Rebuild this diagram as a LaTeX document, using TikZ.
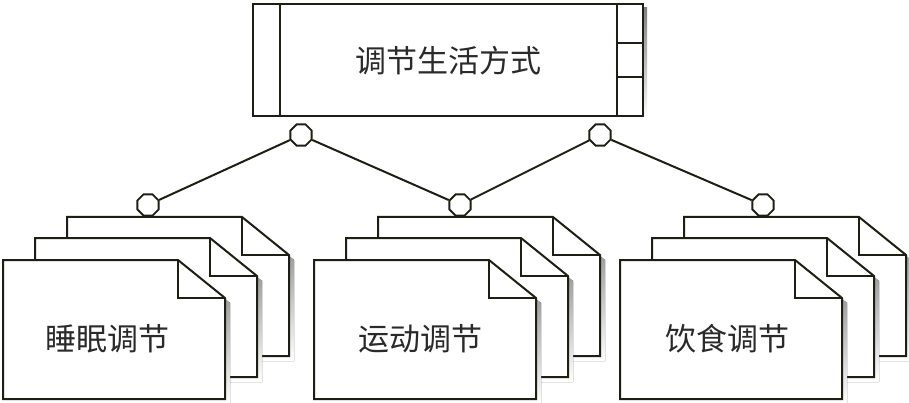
\documentclass[tikz,border=0pt]{standalone}
\usepackage{fontspec}
\newfontfamily\cjk{Noto Sans CJK SC}
\usetikzlibrary{shapes.geometric}
\definecolor{ink}{HTML}{1E1E12}
\definecolor{shade}{HTML}{CDCDCD}
\definecolor{txt}{HTML}{2A2A2A}
\tikzset{
  x=1pt, y=-1pt,
  line/.style={draw=ink, line width=2pt},
  knob/.style={regular polygon, regular polygon sides=8, draw=ink, line width=1.8pt, fill=white, minimum size=23pt, inner sep=0pt},
  label text/.style={font=\cjk\fontsize{31}{31}\selectfont, text=txt, inner sep=0pt},
  pics/docpage/.style={code={
    \fill[shade] (5,5) -- (180,5) -- (227,43) -- (227,144) -- (5,144) -- cycle;
    \draw[line, fill=white, line join=miter] (0,0) -- (175,0) -- (222,38) -- (222,139) -- (0,139) -- cycle;
    \draw[line] (175,0) -- (175,38) -- (222,38);
  }}
}
\begin{document}
\begin{tikzpicture}
\useasboundingbox (0,0) rectangle (909,403);
\fill[white] (0,0) rectangle (909,403);
% top box
\fill[shade] (257,8) rectangle (647,120);
\node[line, fill=white, minimum width=390pt, minimum height=112pt, inner sep=0pt, anchor=north west] (top) at (252,3) {};
\draw[line] ([xshift=28pt]top.north west) -- ([xshift=28pt]top.south west);
\draw[line] ([xshift=-27pt]top.north east) -- ([xshift=-27pt]top.south east);
\draw[line] ([xshift=-27pt,yshift=-40pt]top.north east) -- ([yshift=-40pt]top.north east);
\draw[line] ([xshift=-27pt,yshift=-74pt]top.north east) -- ([yshift=-74pt]top.north east);
\node[label text] (toptext) at (448,61) {调节生活方式};
% document stacks
\foreach \x in {3,314,620} {
  \pic at (\x+64,217) {docpage};
  \pic at (\x+32,238) {docpage};
  \pic at (\x,260) {docpage};
}
\node[label text] (d1) at (107,339) {睡眠调节};
\node[label text] (d2) at (420,339) {运动调节};
\node[label text] (d3) at (727,339) {饮食调节};
% knobs
\node[knob] (c1) at (301,135) {};
\node[knob] (c2) at (600,135) {};
\node[knob] (b1) at (148,205) {};
\node[knob] (b2) at (460,205) {};
\node[knob] (b3) at (763,205) {};
\draw[line] (c1) -- (b1);
\draw[line] (c1) -- (b2);
\draw[line] (c2) -- (b2);
\draw[line] (c2) -- (b3);
\end{tikzpicture}
\end{document}
